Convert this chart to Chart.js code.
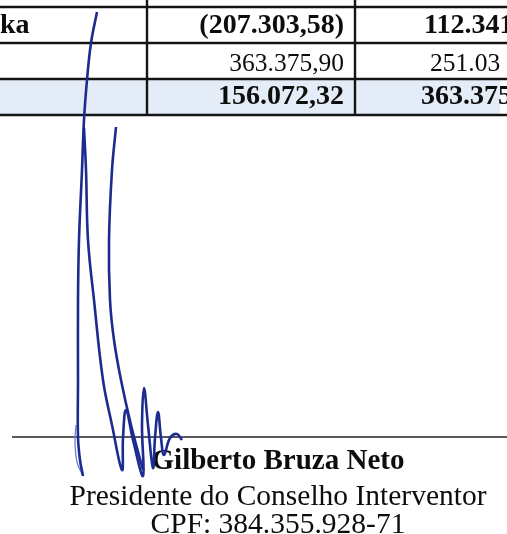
<!DOCTYPE html>
<html>
<head>
  <meta charset="utf-8">
  <title>balanco</title>
  <script src="https://cdn.jsdelivr.net/npm/chart.js@4.4.1/dist/chart.umd.min.js"></script>
  <style>
    body { margin: 0; background: #fff; }
    #wrap { width: 507px; height: 534px; }
  </style>
</head>
<body>
  <div id="wrap">
    <canvas id="chart"></canvas>
  </div>
  <script>
  // table rows (page units, y grows downward)
  const rowLines = [7, 43, 79, 115];
  const colLines = [147, 355];
  const rowBaselines = [33, 71, 104];
  const rowBold = [true, false, true];
  const col1Labels = ['ka', '', ''];
  const col2Values = ['(207.303,58)', '363.375,90', '156.072,32'];
  const col3Values = ['112.341', '251.03', '363.375'];
  const col3Starts = [424, 430, 421];

  // signature block
  const signRuleY = 437;
  const signerLines = ['Gilberto Bruza Neto', 'Presidente do Conselho Interventor', 'CPF: 384.355.928-71'];
  const signerBaselines = [469, 505, 533];

  // pen strokes of the handwritten signature
  const strokeLeft = [
    {x: 97, y: 12}, {x: 91, y: 43}, {x: 87, y: 80}, {x: 84, y: 120}, {x: 82, y: 170},
    {x: 79, y: 240}, {x: 78, y: 300}, {x: 78, y: 380}, {x: 78, y: 437}, {x: 80, y: 460}, {x: 83, y: 476}
  ];
  const strokeLeftHook = [
    {x: 83, y: 476}, {x: 77, y: 462}, {x: 75, y: 440}, {x: 76, y: 425}
  ];
  const strokeMiddle = [
    {x: 84, y: 128}, {x: 86, y: 170}, {x: 88, y: 240}, {x: 94, y: 300}, {x: 103, y: 380},
    {x: 112, y: 425}, {x: 122, y: 470}, {x: 123, y: 438}, {x: 126, y: 410}, {x: 133, y: 440},
    {x: 143, y: 476}, {x: 142, y: 425}, {x: 144, y: 388}, {x: 148, y: 425}, {x: 153, y: 468},
    {x: 155, y: 438}, {x: 158, y: 412}, {x: 161, y: 438}, {x: 164, y: 455}, {x: 170, y: 438},
    {x: 177, y: 434}, {x: 182, y: 440}
  ];
  const strokeRight = [
    {x: 116, y: 127}, {x: 112, y: 170}, {x: 109, y: 240}, {x: 110, y: 300}, {x: 114, y: 340},
    {x: 121, y: 380}, {x: 131, y: 425}, {x: 143, y: 470}
  ];

  const ink = '#1c2b8f';
  const rule = '#141414';

  const signature = [strokeLeft, strokeMiddle, strokeRight].map(pts => ({
    data: pts, borderColor: ink, borderWidth: 2.6, tension: 0.4, pointRadius: 0
  }));
  signature.push({data: strokeLeftHook, borderColor: '#6b7fd6', borderWidth: 1.3, tension: 0.4, pointRadius: 0});

  const tableLines = rowLines.map(y => ({
    data: [{x: 0, y: y}, {x: 507, y: y}], borderColor: rule, borderWidth: 2.4, pointRadius: 0
  })).concat(colLines.map(x => ({
    data: [{x: x, y: 0}, {x: x, y: rowLines[rowLines.length - 1]}], borderColor: rule, borderWidth: 2.4, pointRadius: 0
  })));
  tableLines.push({
    data: [{x: 12, y: signRuleY}, {x: 507, y: signRuleY}], borderColor: '#222', borderWidth: 1.6, pointRadius: 0
  });

  // shaded total row
  const shade = {
    data: [{x: 0, y: rowLines[2]}, {x: 500, y: rowLines[2]}],
    borderWidth: 0, pointRadius: 0, backgroundColor: '#e4ecf7',
    fill: {value: rowLines[3]}
  };

  const datasets = signature.concat(tableLines, [shade]);
  const shadeIndex = datasets.length - 1;

  const serif = '"Liberation Serif", "Times New Roman", serif';

  const docText = {
    id: 'docText',
    afterDatasetDraw(chart, args) {
      if (args.index !== shadeIndex) return;
      const ctx = chart.ctx;
      const sx = chart.scales.x, sy = chart.scales.y;
      ctx.save();
      ctx.fillStyle = '#0d0d0d';
      ctx.textBaseline = 'alphabetic';
      rowBaselines.forEach((b, i) => {
        const y = sy.getPixelForValue(b);
        const weight = rowBold[i] ? 'bold 28px ' : '25.5px ';
        ctx.font = weight + serif;
        ctx.textAlign = 'left';
        ctx.fillText(col1Labels[i], sx.getPixelForValue(0), y);
        ctx.textAlign = 'right';
        ctx.fillText(col2Values[i], sx.getPixelForValue(colLines[1] - 11), y);
        ctx.textAlign = 'left';
        ctx.fillText(col3Values[i], sx.getPixelForValue(col3Starts[i]), y);
      });
      ctx.textAlign = 'center';
      signerLines.forEach((t, i) => {
        ctx.font = (i === 0 ? 'bold 29px ' : '29.5px ') + serif;
        ctx.fillText(t, sx.getPixelForValue(278), sy.getPixelForValue(signerBaselines[i]));
      });
      ctx.restore();
    }
  };

  new Chart(document.getElementById('chart'), {
    type: 'line',
    data: {datasets: datasets},
    options: {
      responsive: true,
      maintainAspectRatio: false,
      animation: false,
      layout: {padding: 0},
      plugins: {legend: {display: false}, tooltip: {enabled: false}},
      scales: {
        x: {type: 'linear', min: 0, max: 507, display: false},
        y: {type: 'linear', min: 0, max: 534, reverse: true, display: false}
      }
    },
    plugins: [docText]
  });
  </script>
</body>
</html>
